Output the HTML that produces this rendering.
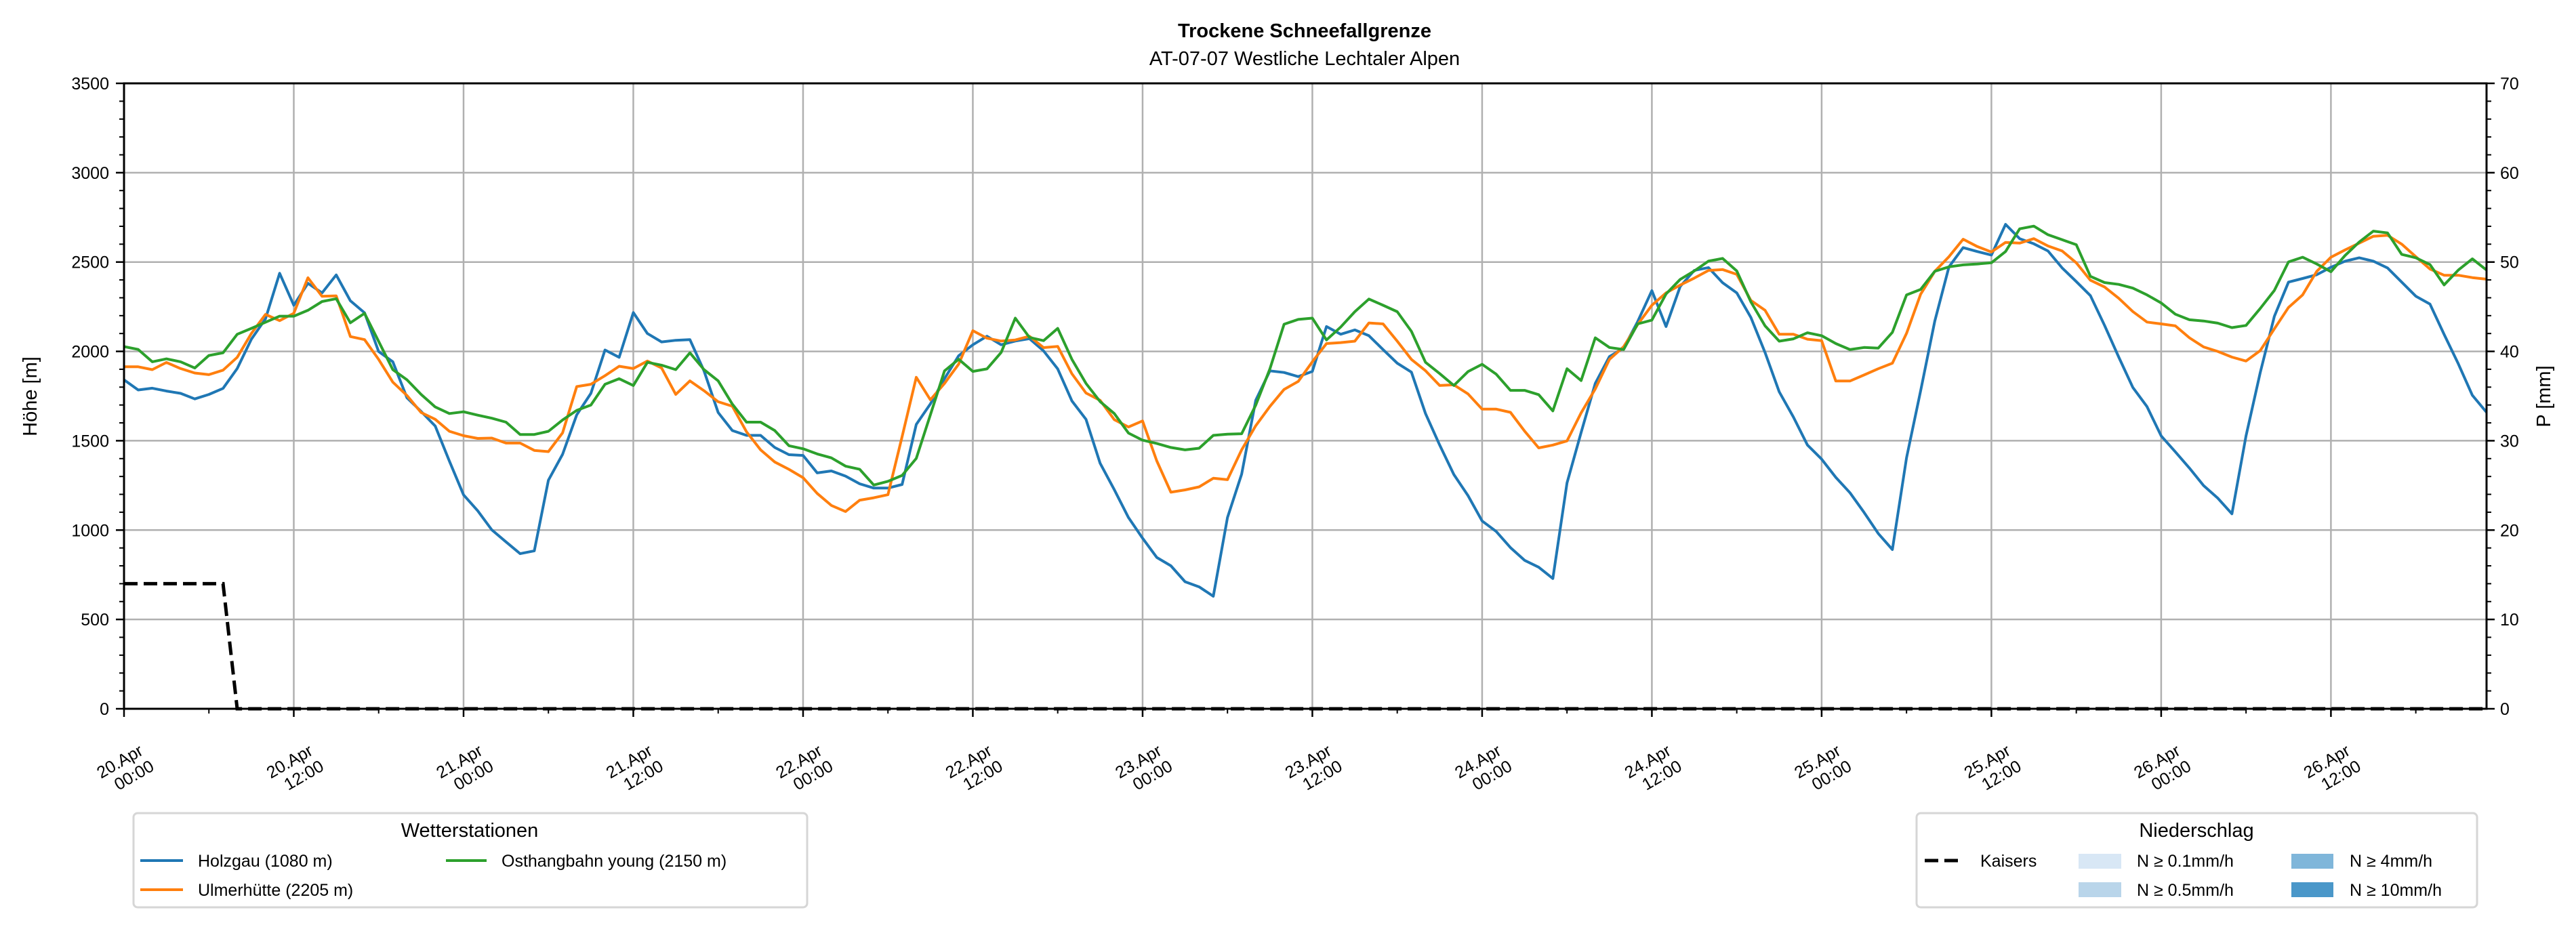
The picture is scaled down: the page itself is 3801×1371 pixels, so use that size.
<!DOCTYPE html>
<html><head><meta charset="utf-8"><style>
html,body{margin:0;padding:0;background:#fff}
svg{display:block;font-family:"Liberation Sans","DejaVu Sans",sans-serif}
</style></head><body>
<svg id="chart" width="3801" height="1371" viewBox="0 0 3801 1371" xmlns="http://www.w3.org/2000/svg">
<rect x="0" y="0" width="3801" height="1371" fill="#fff"/>
<text x="1925" y="55" text-anchor="middle" font-size="29" font-weight="bold">Trockene Schneefallgrenze</text>
<text x="1925" y="96" text-anchor="middle" font-size="29">AT-07-07 Westliche Lechtaler Alpen</text>
<g id="grid"></g>
<g id="series"></g>
<g id="axes"></g>
<text transform="translate(54,585) rotate(-90)" text-anchor="middle" font-size="29">Höhe [m]</text>
<text transform="translate(3763,585) rotate(-90)" text-anchor="middle" font-size="29">P [mm]</text>

<g>
<rect x="197" y="1200" width="994" height="139" rx="6" fill="#fff" stroke="#d6d6d6" stroke-width="3"/>
<text x="693" y="1235" text-anchor="middle" font-size="29">Wetterstationen</text>
<g><line x1="207" y1="1270" x2="270" y2="1270" stroke="#1f77b4" stroke-width="4"/><text x="292" y="1279" font-size="25">Holzgau (1080 m)</text></g>
<g><line x1="207" y1="1313" x2="270" y2="1313" stroke="#ff7f0e" stroke-width="4"/><text x="292" y="1322" font-size="25">Ulmerhütte (2205 m)</text></g>
<g><line x1="658" y1="1270" x2="718" y2="1270" stroke="#2ca02c" stroke-width="4"/><text x="740" y="1279" font-size="25">Osthangbahn young (2150 m)</text></g>
</g>

<g>
<rect x="2828" y="1200" width="827" height="139" rx="6" fill="#fff" stroke="#d6d6d6" stroke-width="3"/>
<text x="3241" y="1235" text-anchor="middle" font-size="29">Niederschlag</text>
<g><line x1="2840" y1="1270" x2="2895" y2="1270" stroke="#000" stroke-width="5" stroke-dasharray="20,9"/><text x="2922" y="1279" font-size="25">Kaisers</text></g>
<g><rect x="3067" y="1260" width="63" height="22" fill="#d8e7f5"/><text x="3153" y="1279" font-size="25">N ≥ 0.1mm/h</text></g>
<g><rect x="3067" y="1302" width="63" height="22" fill="#b9d5ea"/><text x="3153" y="1322" font-size="25">N ≥ 0.5mm/h</text></g>
<g><rect x="3381" y="1260" width="62" height="22" fill="#7fb6da"/><text x="3467" y="1279" font-size="25">N ≥ 4mm/h</text></g>
<g><rect x="3381" y="1302" width="62" height="22" fill="#4a97c9"/><text x="3467" y="1322" font-size="25">N ≥ 10mm/h</text></g>
</g>
</svg>
<script>
const holzgau = [1841,1784,1794,1778,1765,1734,1759,1793,1904,2068,2182,2437,2258,2381,2327,2428,2283,2216,1999,1942,1740,1664,1582,1386,1197,1108,1001,934,868,884,1279,1424,1645,1765,2008,1967,2217,2100,2053,2062,2066,1891,1658,1557,
1530,1530,1462,1422,1418,1320,1331,1302,1259,1235,1235,1255,1591,1706,1848,1976,2037,2085,2037,2058,2071,2003,1902,1723,1620,1374,1226,1070,955,847,800,711,682,630,1070,1313,1726,1891,1882,1859,1888,2139,
2096,2120,2088,2010,1934,1884,1652,1476,1311,1193,1051,992,902,831,792,729,1264,1546,1821,1971,2018,2167,2340,2139,2363,2453,2469,2384,2327,2190,1994,1774,1633,1476,1397,1295,1209,1099,981,891,1405,
1780,2170,2473,2581,2559,2539,2711,2631,2602,2562,2467,2391,2312,2145,1968,1798,1691,1527,1438,1347,1249,1179,1091,1527,1880,2196,2388,2408,2429,2471,2505,2524,2505,2467,2388,2309,2265,2095,1931,1754,1659];
const ulmerhuette = [1914,1914,1898,1938,1904,1879,1870,1895,1967,2100,2207,2172,2213,2412,2308,2311,2083,2066,1955,1828,1753,1658,1620,1553,1528,1513,1515,1487,1487,1446,1439,1544,1803,1816,1864,1917,1904,1946,1907,1759,1835,1780,1718,1693,
1550,1449,1381,1340,1293,1205,1138,1104,1167,1181,1198,1523,1855,1729,1821,1929,2116,2074,2058,2064,2085,2021,2028,1875,1767,1726,1618,1577,1611,1388,1212,1225,1242,1290,1282,1449,1584,1692,1787,1832,1942,2044,
2049,2057,2159,2154,2057,1955,1892,1809,1813,1762,1677,1677,1659,1554,1460,1476,1499,1656,1790,1955,2026,2151,2258,2327,2371,2410,2453,2458,2431,2285,2230,2096,2096,2068,2060,1834,1834,1868,1903,1934,2101,
2320,2448,2530,2628,2587,2556,2610,2606,2631,2590,2562,2496,2398,2360,2297,2223,2164,2154,2143,2076,2025,2000,1968,1946,2004,2126,2246,2316,2448,2527,2568,2606,2644,2650,2600,2530,2461,2426,2426,2413,2404];
const osthangbahn = [2027,2011,1942,1958,1942,1907,1977,1992,2096,2129,2163,2197,2197,2230,2279,2295,2160,2213,2056,1898,1841,1759,1689,1652,1662,1643,1626,1604,1535,1535,1553,1616,1670,1700,1816,1847,1809,1939,1923,1898,1992,1898,1835,1705,
1604,1604,1557,1472,1455,1426,1404,1358,1340,1252,1273,1306,1401,1645,1891,1956,1888,1902,1994,2186,2078,2060,2129,1956,1821,1719,1652,1543,1503,1485,1462,1449,1458,1530,1537,1539,1699,1902,2152,2179,2186,2064,
2136,2222,2293,2258,2222,2112,1939,1876,1809,1887,1928,1872,1782,1782,1758,1667,1903,1837,2076,2022,2010,2154,2175,2321,2403,2450,2505,2520,2450,2277,2143,2057,2070,2104,2088,2044,2010,2022,2018,2107,2316,
2347,2448,2473,2484,2489,2496,2559,2686,2701,2653,2625,2597,2420,2385,2375,2354,2316,2271,2208,2177,2170,2158,2133,2145,2240,2341,2501,2527,2489,2446,2537,2612,2673,2663,2543,2524,2486,2372,2455,2518,2455];
const kaisersLevels = [700,700,700,700,700,700,700,700];
const yTicks = [0,500,1000,1500,2000,2500,3000,3500];
const y2Ticks = [0,10,20,30,40,50,60,70];
const xTickDays = ["20.Apr","20.Apr","21.Apr","21.Apr","22.Apr","22.Apr","23.Apr","23.Apr","24.Apr","24.Apr","25.Apr","25.Apr","26.Apr","26.Apr"];
const xTickTimes = ["00:00","12:00","00:00","12:00","00:00","12:00","00:00","12:00","00:00","12:00","00:00","12:00","00:00","12:00"];

const NS='http://www.w3.org/2000/svg';
const L=183,R=3669,T=123,B=1046, HOURS=167;
const xs=h=>L+(R-L)*h/HOURS;
const ys=v=>B-(B-T)*v/3500;
const ys2=v=>B-(B-T)*v/70;
function mk(tag,attrs,parent){const e=document.createElementNS(NS,tag);for(const k in attrs)e.setAttribute(k,attrs[k]);parent.appendChild(e);return e;}
const grid=document.getElementById('grid'),axes=document.getElementById('axes'),ser=document.getElementById('series');

yTicks.forEach(v=>{
  const g=mk('line',{x1:L,x2:R,y1:ys(v),y2:ys(v),stroke:'#b0b0b0','stroke-width':2.5},grid);
  
  
  mk('line',{x1:L-12,x2:L,y1:ys(v),y2:ys(v),stroke:'#000','stroke-width':2.5},axes);
  const t=mk('text',{x:L-22,y:ys(v)+9,'text-anchor':'end','font-size':25},axes);
  t.textContent=v;
  
  
});
for(let v=100;v<3500;v+=100){ if(v%500) mk('line',{x1:L-7,x2:L,y1:ys(v),y2:ys(v),stroke:'#000','stroke-width':2},axes); }
y2Ticks.forEach(v=>{
  mk('line',{x1:R,x2:R+12,y1:ys2(v),y2:ys2(v),stroke:'#000','stroke-width':2.5},axes);
  const t=mk('text',{x:R+20,y:ys2(v)+9,'font-size':25},axes);
  t.textContent=v;
  
  
});
for(let v=2;v<70;v+=2){ if(v%10) mk('line',{x1:R,x2:R+7,y1:ys2(v),y2:ys2(v),stroke:'#000','stroke-width':2},axes); }
xTickDays.forEach((d,i)=>{
  const h=i*12,x=xs(h);
  const g=mk('line',{x1:x,x2:x,y1:T,y2:B,stroke:'#b0b0b0','stroke-width':2.5},grid);
  
  
  mk('line',{x1:x,x2:x,y1:B,y2:B+12,stroke:'#000','stroke-width':2.5},axes);
  mk('line',{x1:xs(h+6),x2:xs(h+6),y1:B,y2:B+7,stroke:'#000','stroke-width':2},axes);
  const t=mk('text',{transform:`translate(${x+2},${B+92}) rotate(-30)`,'text-anchor':'middle','font-size':25},axes);
  
  
  const a=mk('tspan',{x:0,y:-8},t);a.textContent=d;
  const b=mk('tspan',{x:8,y:20},t);b.textContent=xTickTimes[i];
});
mk('rect',{x:L,y:T,width:R-L,height:B-T,fill:'none',stroke:'#000','stroke-width':3},axes);

function line(vals,color,name,extra){
  const d=vals.map((v,i)=>(i?'L':'M')+xs(i).toFixed(1)+','+ys(v).toFixed(1)).join('');
  const p=mk('path',Object.assign({d:d,fill:'none',stroke:color,'stroke-width':4,'stroke-linejoin':'round'},extra||{}),ser);
  
  
}
const kaisers=[];for(let i=0;i<=HOURS;i++)kaisers.push(i<kaisersLevels.length?kaisersLevels[i]:0);
line(holzgau,'#1f77b4','holzgau-line');
line(ulmerhuette,'#ff7f0e','ulmerhuette-line');
line(osthangbahn,'#2ca02c','osthangbahn-line');
line(kaisers,'#000','kaisers-line',{'stroke-width':5,'stroke-dasharray':'20,9','stroke-linejoin':'miter'});
</script>
</body></html>
